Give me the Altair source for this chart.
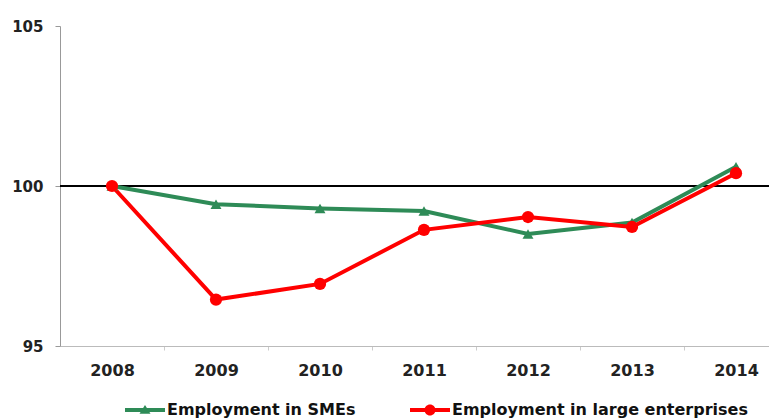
import altair as alt
import pandas as pd

years = [2008, 2009, 2010, 2011, 2012, 2013, 2014]
smes = [100.0, 99.43, 99.3, 99.22, 98.5, 98.86, 100.6]
large = [100.0, 96.45, 96.94, 98.63, 99.03, 98.72, 100.4]
series_names = ["Employment in SMEs", "Employment in large enterprises"]
series_colors = ["#2E8B57", "#FF0000"]
y_ticks = [95, 100, 105]

rows = []
for i, yr in enumerate(years):
    rows.append({"year": yr, "value": smes[i], "series": series_names[0]})
for i, yr in enumerate(years):
    rows.append({"year": yr, "value": large[i], "series": series_names[1]})
df = pd.DataFrame(rows)

FONT = "DejaVu Sans"
PLOT_W = 709
STEP = 104.0
x_lo = years[0] - 0.5
x_hi = x_lo + PLOT_W / STEP

x_enc = alt.X(
    "year:Q",
    scale=alt.Scale(domain=[x_lo, x_hi], nice=False, zero=False),
    axis=alt.Axis(
        title=None, values=years, format="d", labelAngle=0, tickOffset=STEP / 2,
        labelOffset=-STEP / 2, tickSize=4,
        tickColor="#cccccc", domainColor="#bbbbbb", labelPadding=12, labelFont=FONT,
        labelFontSize=16, labelFontWeight="bold", labelColor="#222222", grid=False,
        labelFlush=False, labelOverlap=False,
    ),
)
y_enc = alt.Y(
    "value:Q",
    scale=alt.Scale(domain=[95, 105], zero=False, nice=False),
    axis=alt.Axis(
        title=None, values=y_ticks, tickSize=5, tickColor="#999999", domainColor="#999999",
        labelPadding=12, labelFont=FONT, labelFontSize=15, labelFontWeight="bold",
        labelColor="#222222", grid=False,
    ),
)

base = alt.Chart(df)
sme_df = base.transform_filter(alt.datum.series == series_names[0])
large_df = base.transform_filter(alt.datum.series == series_names[1])

line_sme = sme_df.mark_line(strokeWidth=4, color=series_colors[0]).encode(x=x_enc, y=y_enc)
line_large = large_df.mark_line(strokeWidth=4, color=series_colors[1]).encode(x=x_enc, y=y_enc)
pts_sme = sme_df.mark_point(
    filled=True, opacity=1, shape="triangle-up", size=120, color=series_colors[0]
).encode(x=x_enc, y=y_enc)
pts_large = large_df.mark_point(
    filled=True, opacity=1, shape="circle", size=150, color=series_colors[1]
).encode(x=x_enc, y=y_enc)

rule = alt.Chart(pd.DataFrame({"v": [100]})).mark_rule(color="#000000", strokeWidth=2).encode(y=alt.Y("v:Q"))

tri_path = "M-2,-0.2L2,-0.2L2,0.2L-2,0.2Z M0,-0.5L0.55,0.38L-0.55,0.38Z"
circ_path = "M-2,-0.2L2,-0.2L2,0.2L-2,0.2Z M-0.55,0A0.55,0.55 0 1,1 0.55,0A0.55,0.55 0 1,1 -0.55,0Z"

legend_props = dict(
    title=None, orient="none", legendX=75, legendY=374, direction="horizontal",
    columnPadding=54, labelOffset=12, symbolSize=400, padding=0, labelLimit=0,
    labelFont=FONT, labelFontSize=16, labelFontWeight="bold", labelColor="#111111",
    symbolStrokeWidth=0,
)

legend_layer = base.transform_filter("false").mark_point(filled=True, opacity=1).encode(
    color=alt.Color(
        "series:N",
        scale=alt.Scale(domain=series_names, range=series_colors),
        legend=alt.Legend(**legend_props),
    ),
    shape=alt.Shape(
        "series:N",
        scale=alt.Scale(domain=series_names, range=[tri_path, circ_path]),
        legend=alt.Legend(**legend_props),
    ),
)

chart = (
    alt.layer(rule, line_sme, line_large, pts_sme, pts_large, legend_layer)
    .properties(
        width=PLOT_W,
        height=320,
        autosize=alt.AutoSizeParams(type="none"),
        padding={"left": 52, "top": 18, "right": 0, "bottom": 72},
        background="#ffffff",
    )
    .configure_view(stroke=None)
)

chart.save("out.html", embed_options={"renderer": "svg", "actions": False})
